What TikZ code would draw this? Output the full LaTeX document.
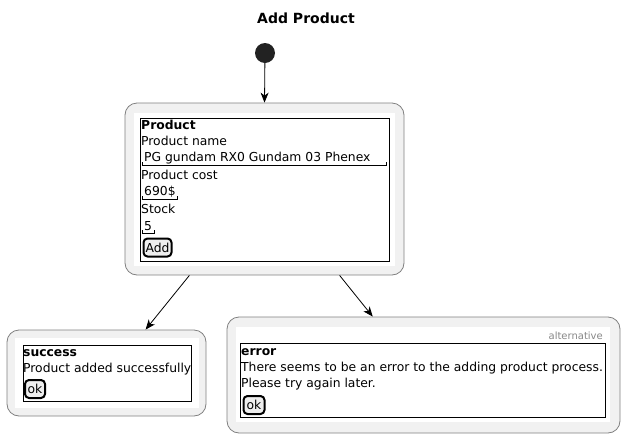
\documentclass[tikz,border=0pt]{standalone}
\usepackage{fontspec}
\setmainfont{DejaVu Sans}
\usetikzlibrary{arrows.meta}
\definecolor{boxfill}{HTML}{F1F1F1}
\definecolor{boxline}{HTML}{808080}
\definecolor{startc}{HTML}{222222}
\definecolor{btnfill}{HTML}{EEEEEE}
\definecolor{altgray}{HTML}{888888}
\tikzset{
  outerbox/.style={draw=boxline, fill=boxfill, rounded corners=12pt, line width=0.8pt, inner sep=0pt},
  frame/.style={draw=black, line width=0.8pt},
  txt/.style={anchor=west, inner sep=0pt, font=\fontsize{12.35}{14}\selectfont},
  btxt/.style={txt, font=\fontsize{12.35}{14}\selectfont\bfseries},
  btn/.style={draw=black, fill=btnfill, line width=2pt, rounded corners=4pt, inner sep=1pt, font=\fontsize{12.35}{14}\selectfont},
  flow/.style={-{Stealth[length=10pt,width=8pt,inset=3pt]}, line width=0.8pt, draw=black},
  field/.style={line width=0.8pt}
}
\begin{document}
\begin{tikzpicture}[x=1pt,y=-1pt]
\useasboundingbox (0,0) rectangle (625,437);
% title
\node[inner sep=0pt, font=\fontsize{14}{16}\selectfont\bfseries] (title) at (306,18) {Add Product};
% start
\node[circle, fill=startc, minimum size=20pt, inner sep=0pt] (start) at (265,53) {};
% product box
\node[outerbox, minimum width=279pt, minimum height=172pt] (prod) at (264.5,189) {};
\fill[white] (134,113) rectangle (395,266);
\draw[frame] (140,118) rectangle (389,261);
\node[btxt] (p1) at (141,125) {Product};
\node[txt] (p2) at (141,141) {Product name};
\node[txt] (p3) at (144,158) {PG gundam RX0 Gundam 03 Phenex};
\draw[field] (142,162) -- (142,165) -- (386,165) -- (386,162);
\node[txt] (p4) at (141,175) {Product cost};
\node[txt] (p5) at (144,192) {690\$};
\draw[field] (142,196) -- (142,199) -- (177,199) -- (177,196);
\node[txt] (p6) at (141,209) {Stock};
\node[txt] (p7) at (144,226) {5};
\draw[field] (142,230) -- (142,233) -- (154,233) -- (154,230);
\node[btn, minimum width=28pt, minimum height=18pt] (add) at (157.5,247.5) {Add};
% success box
\node[outerbox, minimum width=199pt, minimum height=86pt] (succ) at (106.5,373) {};
\fill[white] (15,338) rectangle (199,408);
\draw[frame] (23,345) rectangle (191,401);
\node[btxt] (s1) at (23,353) {success};
\node[txt] (s2) at (23,369) {Product added successfully};
\node[btn, minimum width=20pt, minimum height=18pt] (ok1) at (35,389) {ok};
% error box
\node[outerbox, minimum width=393pt, minimum height=116pt] (err) at (423.5,375) {};
\fill[white] (236,327) rectangle (610,422);
\node[anchor=east, inner sep=0pt, text=altgray, font=\fontsize{10}{12}\selectfont] (alt) at (603,336) {alternative};
\draw[frame] (240,343) rectangle (605,417);
\node[btxt] (e1) at (241,352) {error};
\node[txt] (e2) at (241,368) {There seems to be an error to the adding product process.};
\node[txt] (e3) at (241,384) {Please try again later.};
\node[btn, minimum width=21pt, minimum height=18pt] (ok2) at (254,405) {ok};
% connectors
\draw[flow] (start) -- (prod.north);
\draw[flow] (prod.229) -- (succ.48);
\draw[flow] (prod.311.3) -- (err.131);
\end{tikzpicture}
\end{document}
